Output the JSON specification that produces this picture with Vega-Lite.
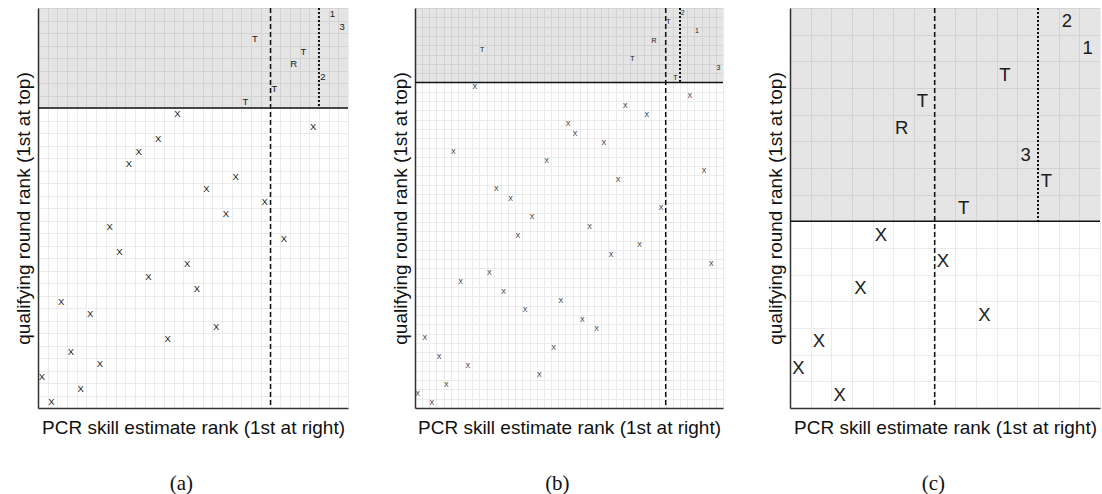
{
  "$schema": "https://vega.github.io/schema/vega-lite/v6.json",
  "padding": {"left": 14, "top": 7, "right": 0, "bottom": 0},
  "background": "white",
  "spacing": 42,
  "config": {
    "view": {"stroke": null},
    "font": "Liberation Sans",
    "axis": {
      "domain": true, "domainColor": "#333333", "domainWidth": 1.5,
      "ticks": false, "labels": false,
      "grid": true, "gridColor": "#ebebeb", "gridWidth": 1,
      "titleFont": "Liberation Sans", "titleFontSize": 19, "titleFontWeight": "normal", "titleColor": "#111111"
    },
    "axisX": {"titlePadding": 10},
    "axisY": {"titlePadding": 5},
    "title": {"font": "Liberation Serif", "fontSize": 21, "fontWeight": "normal", "color": "#111111", "orient": "bottom", "anchor": "middle", "frame": "bounds", "offset": 36}
  },
  "datasets": {
    "a": [
      {"pcr": 2, "qual": 1, "label": "1"},
      {"pcr": 1, "qual": 2, "label": "3"},
      {"pcr": 10, "qual": 3, "label": "T"},
      {"pcr": 5, "qual": 4, "label": "T"},
      {"pcr": 6, "qual": 5, "label": "R"},
      {"pcr": 3, "qual": 6, "label": "2"},
      {"pcr": 8, "qual": 7, "label": "T"},
      {"pcr": 11, "qual": 8, "label": "T"},
      {"pcr": 18, "qual": 9, "label": "X"},
      {"pcr": 4, "qual": 10, "label": "X"},
      {"pcr": 20, "qual": 11, "label": "X"},
      {"pcr": 22, "qual": 12, "label": "X"},
      {"pcr": 23, "qual": 13, "label": "X"},
      {"pcr": 12, "qual": 14, "label": "X"},
      {"pcr": 15, "qual": 15, "label": "X"},
      {"pcr": 9, "qual": 16, "label": "X"},
      {"pcr": 13, "qual": 17, "label": "X"},
      {"pcr": 25, "qual": 18, "label": "X"},
      {"pcr": 7, "qual": 19, "label": "X"},
      {"pcr": 24, "qual": 20, "label": "X"},
      {"pcr": 17, "qual": 21, "label": "X"},
      {"pcr": 21, "qual": 22, "label": "X"},
      {"pcr": 16, "qual": 23, "label": "X"},
      {"pcr": 30, "qual": 24, "label": "X"},
      {"pcr": 27, "qual": 25, "label": "X"},
      {"pcr": 14, "qual": 26, "label": "X"},
      {"pcr": 19, "qual": 27, "label": "X"},
      {"pcr": 29, "qual": 28, "label": "X"},
      {"pcr": 26, "qual": 29, "label": "X"},
      {"pcr": 32, "qual": 30, "label": "X"},
      {"pcr": 28, "qual": 31, "label": "X"},
      {"pcr": 31, "qual": 32, "label": "X"}
    ],
    "b": [
      {"pcr": 6, "qual": 1, "label": "2"},
      {"pcr": 8, "qual": 2, "label": "T"},
      {"pcr": 4, "qual": 3, "label": "1"},
      {"pcr": 10, "qual": 4, "label": "R"},
      {"pcr": 34, "qual": 5, "label": "T"},
      {"pcr": 13, "qual": 6, "label": "T"},
      {"pcr": 1, "qual": 7, "label": "3"},
      {"pcr": 7, "qual": 8, "label": "T"},
      {"pcr": 35, "qual": 9, "label": "X"},
      {"pcr": 5, "qual": 10, "label": "X"},
      {"pcr": 14, "qual": 11, "label": "X"},
      {"pcr": 11, "qual": 12, "label": "X"},
      {"pcr": 22, "qual": 13, "label": "X"},
      {"pcr": 21, "qual": 14, "label": "X"},
      {"pcr": 17, "qual": 15, "label": "X"},
      {"pcr": 38, "qual": 16, "label": "X"},
      {"pcr": 25, "qual": 17, "label": "X"},
      {"pcr": 3, "qual": 18, "label": "X"},
      {"pcr": 15, "qual": 19, "label": "X"},
      {"pcr": 32, "qual": 20, "label": "X"},
      {"pcr": 30, "qual": 21, "label": "X"},
      {"pcr": 9, "qual": 22, "label": "X"},
      {"pcr": 27, "qual": 23, "label": "X"},
      {"pcr": 19, "qual": 24, "label": "X"},
      {"pcr": 29, "qual": 25, "label": "X"},
      {"pcr": 12, "qual": 26, "label": "X"},
      {"pcr": 16, "qual": 27, "label": "X"},
      {"pcr": 2, "qual": 28, "label": "X"},
      {"pcr": 33, "qual": 29, "label": "X"},
      {"pcr": 37, "qual": 30, "label": "X"},
      {"pcr": 31, "qual": 31, "label": "X"},
      {"pcr": 23, "qual": 32, "label": "X"},
      {"pcr": 28, "qual": 33, "label": "X"},
      {"pcr": 20, "qual": 34, "label": "X"},
      {"pcr": 18, "qual": 35, "label": "X"},
      {"pcr": 42, "qual": 36, "label": "X"},
      {"pcr": 24, "qual": 37, "label": "X"},
      {"pcr": 40, "qual": 38, "label": "X"},
      {"pcr": 36, "qual": 39, "label": "X"},
      {"pcr": 26, "qual": 40, "label": "X"},
      {"pcr": 39, "qual": 41, "label": "X"},
      {"pcr": 43, "qual": 42, "label": "X"},
      {"pcr": 41, "qual": 43, "label": "X"}
    ],
    "c": [
      {"pcr": 2, "qual": 1, "label": "2"},
      {"pcr": 1, "qual": 2, "label": "1"},
      {"pcr": 5, "qual": 3, "label": "T"},
      {"pcr": 9, "qual": 4, "label": "T"},
      {"pcr": 10, "qual": 5, "label": "R"},
      {"pcr": 4, "qual": 6, "label": "3"},
      {"pcr": 3, "qual": 7, "label": "T"},
      {"pcr": 7, "qual": 8, "label": "T"},
      {"pcr": 11, "qual": 9, "label": "X"},
      {"pcr": 8, "qual": 10, "label": "X"},
      {"pcr": 12, "qual": 11, "label": "X"},
      {"pcr": 6, "qual": 12, "label": "X"},
      {"pcr": 14, "qual": 13, "label": "X"},
      {"pcr": 15, "qual": 14, "label": "X"},
      {"pcr": 13, "qual": 15, "label": "X"}
    ]
  },
  "hconcat": [
    {
      "width": 310, "height": 400,
      "title": "(a)",
      "data": {"name": "a"},
      "encoding": {
        "x": {"field": "pcr", "type": "quantitative", "title": "PCR skill estimate rank (1st at right)",
              "scale": {"domain": [0.5, 32.5], "reverse": true, "nice": false, "zero": false},
              "axis": {"values": [0.5,1.5,2.5,3.5,4.5,5.5,6.5,7.5,8.5,9.5,10.5,11.5,12.5,13.5,14.5,15.5,16.5,17.5,18.5,19.5,20.5,21.5,22.5,23.5,24.5,25.5,26.5,27.5,28.5,29.5,30.5,31.5,32.5]}},
        "y": {"field": "qual", "type": "quantitative", "title": "qualifying round rank (1st at top)",
              "scale": {"domain": [0.5, 32.5], "reverse": true, "nice": false, "zero": false},
              "axis": {"values": [0.5,1.5,2.5,3.5,4.5,5.5,6.5,7.5,8.5,9.5,10.5,11.5,12.5,13.5,14.5,15.5,16.5,17.5,18.5,19.5,20.5,21.5,22.5,23.5,24.5,25.5,26.5,27.5,28.5,29.5,30.5,31.5,32.5]}}
      },
      "layer": [
        {"mark": {"type": "text", "fontSize": 9.5, "color": "#222222", "dx": -1, "baseline": "middle"},
         "encoding": {"text": {"field": "label"}}},
        {"mark": {"type": "rect", "fill": "black", "opacity": 0.1},
         "transform": [{"filter": "datum.qual == 1"}],
         "encoding": {"x": {"datum": 0.5, "type": "quantitative"}, "x2": {"datum": 32.5}, "y": {"datum": 0.5, "type": "quantitative"}, "y2": {"datum": 8.5}}},
        {"mark": {"type": "rule", "color": "#111111", "strokeWidth": 1.5},
         "transform": [{"filter": "datum.qual == 1"}],
         "encoding": {"x": {"datum": 0.5, "type": "quantitative"}, "x2": {"datum": 32.5}, "y": {"datum": 8.5, "type": "quantitative"}}},
        {"mark": {"type": "rule", "color": "#111111", "strokeWidth": 1.5, "strokeDash": [5, 3]},
         "transform": [{"filter": "datum.qual == 1"}],
         "encoding": {"x": {"datum": 8.5, "type": "quantitative"}, "y": {"datum": 0.5, "type": "quantitative"}, "y2": {"datum": 32.5}}},
        {"mark": {"type": "rule", "color": "#111111", "strokeWidth": 2, "strokeDash": [2, 2]},
         "transform": [{"filter": "datum.qual == 1"}],
         "encoding": {"x": {"datum": 3.5, "type": "quantitative"}, "y": {"datum": 0.5, "type": "quantitative"}, "y2": {"datum": 8.5}}}
      ]
    },
    {
      "width": 308, "height": 400,
      "title": "(b)",
      "data": {"name": "b"},
      "encoding": {
        "x": {"field": "pcr", "type": "quantitative", "title": "PCR skill estimate rank (1st at right)",
              "scale": {"domain": [0.5, 43.5], "reverse": true, "nice": false, "zero": false},
              "axis": {"values": [0.5,1.5,2.5,3.5,4.5,5.5,6.5,7.5,8.5,9.5,10.5,11.5,12.5,13.5,14.5,15.5,16.5,17.5,18.5,19.5,20.5,21.5,22.5,23.5,24.5,25.5,26.5,27.5,28.5,29.5,30.5,31.5,32.5,33.5,34.5,35.5,36.5,37.5,38.5,39.5,40.5,41.5,42.5,43.5]}},
        "y": {"field": "qual", "type": "quantitative", "title": "qualifying round rank (1st at top)",
              "scale": {"domain": [0.5, 43.5], "reverse": true, "nice": false, "zero": false},
              "axis": {"values": [0.5,1.5,2.5,3.5,4.5,5.5,6.5,7.5,8.5,9.5,10.5,11.5,12.5,13.5,14.5,15.5,16.5,17.5,18.5,19.5,20.5,21.5,22.5,23.5,24.5,25.5,26.5,27.5,28.5,29.5,30.5,31.5,32.5,33.5,34.5,35.5,36.5,37.5,38.5,39.5,40.5,41.5,42.5,43.5]}}
      },
      "layer": [
        {"mark": {"type": "text", "fontSize": 7, "color": "#222222", "dx": -1, "baseline": "middle"},
         "encoding": {"text": {"field": "label"}}},
        {"mark": {"type": "rect", "fill": "black", "opacity": 0.1},
         "transform": [{"filter": "datum.qual == 1"}],
         "encoding": {"x": {"datum": 0.5, "type": "quantitative"}, "x2": {"datum": 43.5}, "y": {"datum": 0.5, "type": "quantitative"}, "y2": {"datum": 8.5}}},
        {"mark": {"type": "rule", "color": "#111111", "strokeWidth": 1.5},
         "transform": [{"filter": "datum.qual == 1"}],
         "encoding": {"x": {"datum": 0.5, "type": "quantitative"}, "x2": {"datum": 43.5}, "y": {"datum": 8.5, "type": "quantitative"}}},
        {"mark": {"type": "rule", "color": "#111111", "strokeWidth": 1.5, "strokeDash": [5, 3]},
         "transform": [{"filter": "datum.qual == 1"}],
         "encoding": {"x": {"datum": 8.5, "type": "quantitative"}, "y": {"datum": 0.5, "type": "quantitative"}, "y2": {"datum": 43.5}}},
        {"mark": {"type": "rule", "color": "#111111", "strokeWidth": 2, "strokeDash": [2, 2]},
         "transform": [{"filter": "datum.qual == 1"}],
         "encoding": {"x": {"datum": 6.5, "type": "quantitative"}, "y": {"datum": 0.5, "type": "quantitative"}, "y2": {"datum": 8.5}}}
      ]
    },
    {
      "width": 310, "height": 400,
      "title": "(c)",
      "data": {"name": "c"},
      "encoding": {
        "x": {"field": "pcr", "type": "quantitative", "title": "PCR skill estimate rank (1st at right)",
              "scale": {"domain": [0.5, 15.5], "reverse": true, "nice": false, "zero": false},
              "axis": {"values": [0.5,1.5,2.5,3.5,4.5,5.5,6.5,7.5,8.5,9.5,10.5,11.5,12.5,13.5,14.5,15.5]}},
        "y": {"field": "qual", "type": "quantitative", "title": "qualifying round rank (1st at top)",
              "scale": {"domain": [0.5, 15.5], "reverse": true, "nice": false, "zero": false},
              "axis": {"values": [0.5,1.5,2.5,3.5,4.5,5.5,6.5,7.5,8.5,9.5,10.5,11.5,12.5,13.5,14.5,15.5]}}
      },
      "layer": [
        {"mark": {"type": "text", "fontSize": 18.5, "color": "#222222", "dx": -2, "baseline": "middle"},
         "encoding": {"text": {"field": "label"}}},
        {"mark": {"type": "rect", "fill": "black", "opacity": 0.1},
         "transform": [{"filter": "datum.qual == 1"}],
         "encoding": {"x": {"datum": 0.5, "type": "quantitative"}, "x2": {"datum": 15.5}, "y": {"datum": 0.5, "type": "quantitative"}, "y2": {"datum": 8.5}}},
        {"mark": {"type": "rule", "color": "#111111", "strokeWidth": 1.5},
         "transform": [{"filter": "datum.qual == 1"}],
         "encoding": {"x": {"datum": 0.5, "type": "quantitative"}, "x2": {"datum": 15.5}, "y": {"datum": 8.5, "type": "quantitative"}}},
        {"mark": {"type": "rule", "color": "#111111", "strokeWidth": 1.5, "strokeDash": [5, 3]},
         "transform": [{"filter": "datum.qual == 1"}],
         "encoding": {"x": {"datum": 8.5, "type": "quantitative"}, "y": {"datum": 0.5, "type": "quantitative"}, "y2": {"datum": 15.5}}},
        {"mark": {"type": "rule", "color": "#111111", "strokeWidth": 2, "strokeDash": [2, 2]},
         "transform": [{"filter": "datum.qual == 1"}],
         "encoding": {"x": {"datum": 3.5, "type": "quantitative"}, "y": {"datum": 0.5, "type": "quantitative"}, "y2": {"datum": 8.5}}}
      ]
    }
  ]
}
